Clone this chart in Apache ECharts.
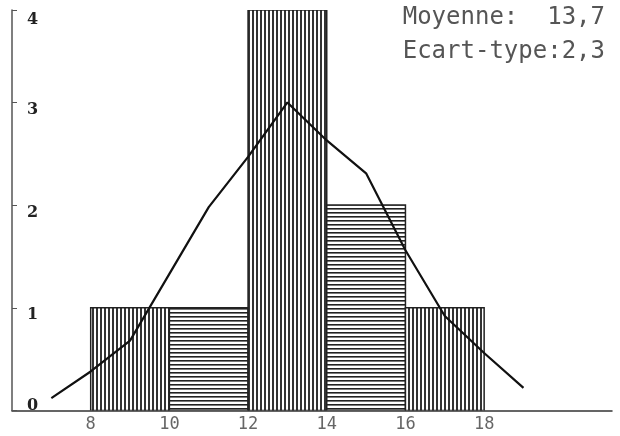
<!DOCTYPE html>
<html><head><meta charset="utf-8">
<script src="https://cdn.jsdelivr.net/npm/echarts@6/dist/echarts.min.js"></script>
<style>html,body{margin:0;padding:0;background:#fff}#c{width:620px;height:436px}</style>
</head><body><div id="c"></div>
<script>
// Histogram bins
var binStart = [8, 10, 12, 14, 16];
var binEnd = [10, 12, 14, 16, 18];
var binCount = [1, 1, 4, 2, 1];
var binHatch = ['v', 'h', 'v', 'h', 'v'];
// Frequency polygon (line)
var lineX = [7, 8, 9, 10, 11, 12, 13, 14, 15, 16, 17, 18, 19];
var lineY = [0.12, 0.38, 0.68, 1.33, 1.98, 2.47, 3.0, 2.63, 2.31, 1.56, 0.92, 0.56, 0.22];
// Axis tick labels
var xTickLabels = [8, 10, 12, 14, 16, 18];
var yTickLabels = ['0', '1', '2', '3', '4'];
// Annotation text
var statLines = ['Moyenne:  13,7', 'Ecart-type:2,3'];

function makeHatch(dir) {
  var c = document.createElement('canvas');
  c.width = 4; c.height = 4;
  var g = c.getContext('2d');
  g.fillStyle = '#fff'; g.fillRect(0, 0, 4, 4);
  if (dir === 'v') { g.fillStyle = '#333'; g.fillRect(0, 0, 2, 4); }
  else { g.fillStyle = '#222'; g.fillRect(0, 0, 4, 1.6); }
  return c;
}
var patV = makeHatch('v'), patH = makeHatch('h');

var barData = binStart.map(function (s, i) { return [s, binEnd[i], binCount[i], binHatch[i]]; });
var lineData = lineX.map(function (x, i) { return [x, lineY[i]]; });

var chart = echarts.init(document.getElementById('c'), null, {renderer: 'canvas'});
chart.setOption({
  backgroundColor: '#fff',
  animation: false,
  grid: {left: 12, top: 10, width: 600, bottom: 25.5, containLabel: false},
  xAxis: {
    type: 'value', min: 6, max: 21.25, interval: 2,
    axisLine: {lineStyle: {color: '#333', width: 1.5}},
    axisTick: {show: false},
    splitLine: {show: false},
    axisLabel: {
      margin: 6,
      fontFamily: 'DejaVu Sans Mono', fontSize: 17, color: '#666',
      showMinLabel: true, showMaxLabel: true,
      formatter: function (v) { return xTickLabels.indexOf(v) >= 0 ? String(v) : ''; }
    }
  },
  yAxis: {
    type: 'value', min: 0, max: 3.9, interval: 1,
    axisLine: {show: true, lineStyle: {color: '#555', width: 1.5}},
    axisTick: {show: true, inside: true, length: 5, lineStyle: {color: '#555'}},
    splitLine: {show: false},
    axisLabel: {
      inside: true, margin: 15, align: 'left', verticalAlign: 'middle',
      showMaxLabel: true, showMinLabel: true,
      fontFamily: 'DejaVu Serif', fontWeight: 'bold', fontSize: 16, color: '#222',
      formatter: function (v) {
        var idx = Math.round(v);
        var t = yTickLabels[idx] || '';
        if (idx === 0) return '{z|' + t + '}';
        if (v > 3.5) return '{t|' + t + '}';
        return '{n|' + t + '}';
      },
      rich: {
        z: {fontFamily: 'DejaVu Serif', fontWeight: 'bold', fontSize: 16, color: '#222', padding: [0, 0, 10, 0]},
        n: {fontFamily: 'DejaVu Serif', fontWeight: 'bold', fontSize: 16, color: '#222', padding: [15, 0, 0, 0]},
        t: {fontFamily: 'DejaVu Serif', fontWeight: 'bold', fontSize: 16, color: '#222', padding: [20, 0, 0, 0]}
      }
    }
  },
  series: [
    {
      type: 'custom',
      clip: true,
      data: barData,
      encode: {x: [0, 1], y: 2},
      renderItem: function (params, api) {
        var p0 = api.coord([api.value(0), 0]);
        var p1 = api.coord([api.value(1), api.value(2)]);
        var hatch = barData[params.dataIndex][3];
        var rect = echarts.graphic.clipRectByRect(
          {x: p0[0], y: p1[1], width: p1[0] - p0[0], height: p0[1] - p1[1]},
          {x: params.coordSys.x, y: params.coordSys.y, width: params.coordSys.width, height: params.coordSys.height}
        );
        if (!rect) return;
        return {
          type: 'rect',
          shape: rect,
          style: {
            fill: {image: hatch === 'v' ? patV : patH, repeat: 'repeat'},
            stroke: '#222', lineWidth: 1.5
          }
        };
      },
      z: 1
    },
    {
      type: 'line',
      data: lineData,
      symbol: 'none',
      lineStyle: {color: '#111', width: 2.2},
      z: 3
    }
  ],
  graphic: [
    {type: 'text', right: 15, top: 6, style: {text: statLines[0], font: '24px "DejaVu Sans Mono"', fill: '#555'}},
    {type: 'text', right: 15, top: 40, style: {text: statLines[1], font: '24px "DejaVu Sans Mono"', fill: '#555'}}
  ]
});
</script>
</body></html>
